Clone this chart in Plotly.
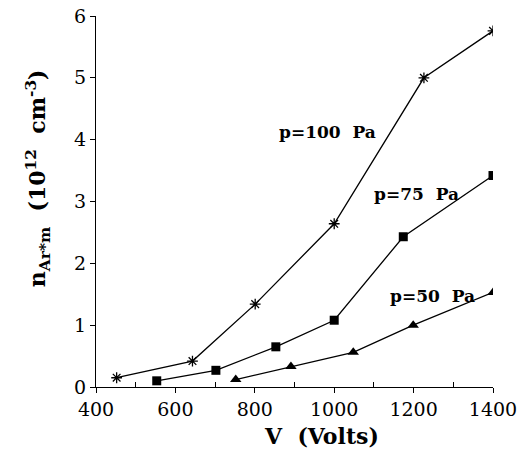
import plotly.graph_objects as go

v100 = [452, 643, 801, 1000, 1226, 1400]
n100 = [0.15, 0.42, 1.34, 2.64, 5.00, 5.76]
v75 = [553, 702, 853, 1000, 1174, 1400]
n75 = [0.10, 0.27, 0.65, 1.08, 2.43, 3.42]
v50 = [752, 891, 1048, 1199, 1400]
n50 = [0.12, 0.33, 0.56, 1.00, 1.53]
labels = ["p=100\u00a0 Pa", "p=75\u00a0 Pa", "p=50\u00a0 Pa"]
label_pos = [(983, 4.12), (1207, 3.12), (1247, 1.47)]
x_title = "<b>V\u00a0 (Volts)</b>"
y_title = "<b>n<sub>Ar*m</sub>\u00a0 (10<sup>12</sup>\u00a0 cm<sup>-3</sup>)</b>"

font_fam = "DejaVu Serif, Liberation Serif, serif"
fig = go.Figure()
fig.add_trace(go.Scatter(x=v100, y=n100, mode="lines+markers",
                         line=dict(color="black", width=1.3),
                         marker=dict(symbol="asterisk-open", size=9,
                                     line=dict(color="black", width=1.3))))
fig.add_trace(go.Scatter(x=v75, y=n75, mode="lines+markers",
                         line=dict(color="black", width=1.3),
                         marker=dict(symbol="square", size=9, color="black")))
fig.add_trace(go.Scatter(x=v50, y=n50, mode="lines+markers",
                         line=dict(color="black", width=1.3),
                         marker=dict(symbol="triangle-up", size=10, color="black")))

for t, (x, y) in zip(labels, label_pos):
    fig.add_annotation(x=x, y=y, text="<b>" + t + "</b>", showarrow=False,
                       font=dict(family=font_fam, size=17, color="black"))

fig.add_annotation(xref="paper", yref="paper", x=0.569, y=-0.132, text=x_title,
                   showarrow=False, xanchor="center", yanchor="middle",
                   font=dict(family=font_fam, size=22, color="black"))
fig.add_annotation(xref="paper", yref="paper", x=-0.146, y=0.563, text=y_title,
                   showarrow=False, xanchor="center", yanchor="middle", textangle=-90,
                   font=dict(family=font_fam, size=22, color="black"))

fig.update_layout(
    width=526, height=458,
    margin=dict(l=96, r=33, t=16, b=71, autoexpand=False),
    plot_bgcolor="white", paper_bgcolor="white",
    showlegend=False,
    font=dict(family=font_fam, size=19, color="black"),
    xaxis=dict(range=[400, 1400], tickvals=[400, 600, 800, 1000, 1200, 1400],
               ticks="outside", ticklen=5, tickwidth=1, tickcolor="black",
               showline=True, linecolor="black", linewidth=1.2,
               showgrid=False, zeroline=False, ticklabeloverflow="allow",
               minor=dict(tickvals=[500, 700, 900, 1100, 1300], ticks="inside",
                          ticklen=5, tickcolor="black", showgrid=False)),
    yaxis=dict(range=[0, 6], tickvals=[0, 1, 2, 3, 4, 5, 6],
               ticks="outside", ticklen=5, tickwidth=1, tickcolor="black",
               showline=True, linecolor="black", linewidth=1.2,
               showgrid=False, zeroline=False, ticklabeloverflow="allow"),
)

fig.write_html("out.html", config={"displayModeBar": False},
               post_script="document.body.style.margin='0px';document.body.style.overflow='hidden';")
